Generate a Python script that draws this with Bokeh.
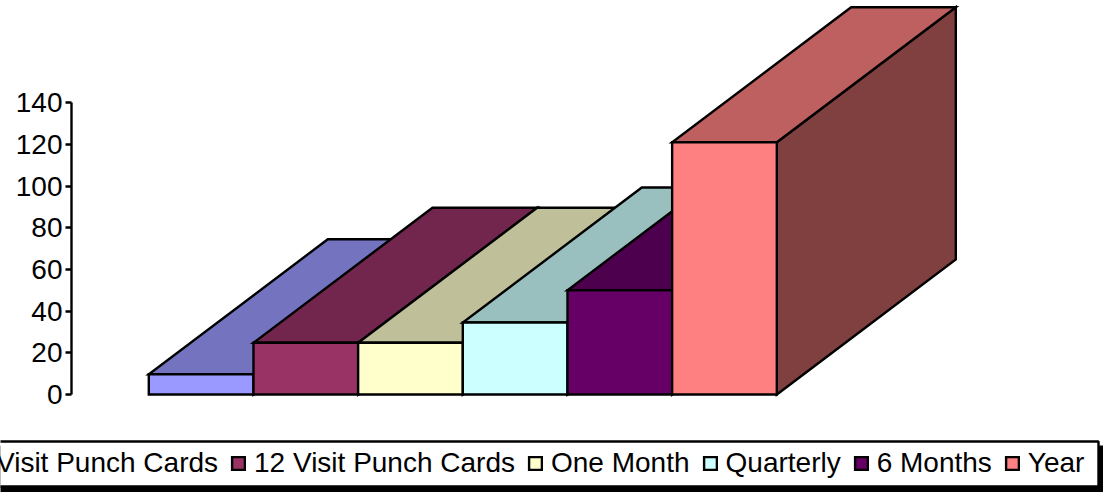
from bokeh.plotting import figure
from bokeh.layouts import column
from bokeh.models import Legend, LegendItem, FixedTicker, BoxAnnotation, Range1d
from bokeh.embed import file_html
from bokeh.resources import INLINE

categories = ["Visit Punch Cards", "12 Visit Punch Cards", "One Month", "Quarterly", "6 Months", "Year"]
values = [9.7, 24.8, 24.8, 34.5, 50, 121]
front_colors = ["#9999FF", "#993366", "#FFFFCC", "#CCFFFF", "#660066", "#FF8080"]
top_colors = ["#7373C0", "#73264D", "#BFBF99", "#99BFBF", "#4D004D", "#BF6060"]
side_colors = ["#4C4C80", "#4C1933", "#808066", "#668080", "#330033", "#804040"]
y_ticks = [0, 20, 40, 60, 80, 100, 120, 140]

PX_PER_X = 104.67
PX_PER_Y = 2.085
W, H1, H2 = 1103, 432, 60
LEFT, BOTTOM = 71, 32
frame_w = W - LEFT
frame_h = H1 - BOTTOM
x_start = -(148.3 - 71) / PX_PER_X
y_start = -6 / PX_PER_Y
depth_x = 179 / PX_PER_X
depth_y = 135 / PX_PER_Y

p = figure(width=W, height=H1, output_backend="svg", toolbar_location=None,
           x_range=Range1d(x_start, x_start + frame_w / PX_PER_X),
           y_range=Range1d(y_start, y_start + frame_h / PX_PER_Y),
           min_border_left=LEFT, min_border_right=0, min_border_top=0, min_border_bottom=BOTTOM,
           x_axis_type=None, frame_align=False)
p.grid.visible = False
p.outline_line_color = None

ax = p.yaxis[0]
ax.ticker = FixedTicker(ticks=y_ticks)
ax.bounds = (0, 140)
ax.axis_line_color = "black"
ax.axis_line_width = 2.4
ax.major_tick_line_color = "black"
ax.major_tick_line_width = 2.4
ax.major_tick_out = 6
ax.major_tick_in = 0
ax.minor_tick_line_color = None
ax.major_label_text_font = "Liberation Sans"
ax.major_label_text_font_size = "28px"
ax.major_label_text_color = "black"
ax.major_label_standoff = 3

style = dict(line_color="black", line_width=2.4, line_join="miter")
for i, v in enumerate(values):
    x0, x1 = i, i + 1
    p.patch([x1, x1, x1 + depth_x, x1 + depth_x], [0, v, v + depth_y, depth_y],
            fill_color=side_colors[i], **style)
    p.patch([x0, x1, x1 + depth_x, x0 + depth_x], [v, v, v + depth_y, v + depth_y],
            fill_color=top_colors[i], **style)
    p.quad(left=[x0], right=[x1], bottom=[0], top=[v], fill_color=front_colors[i], **style)

# legend strip: a figure of its own so nothing is clipped by the chart's frame
q = figure(width=W, height=H2, output_backend="svg", toolbar_location=None,
           x_range=Range1d(0, 1), y_range=Range1d(0, 1),
           min_border_left=0, min_border_right=0, min_border_top=0, min_border_bottom=0,
           x_axis_type=None, y_axis_type=None, frame_align=False)
q.grid.visible = False
q.outline_line_color = None

box = dict(left_units="screen", right_units="screen", top_units="screen", bottom_units="screen")
q.add_layout(BoxAnnotation(left=-10, right=1103, top=47, bottom=0, fill_color="black", fill_alpha=1,
                           line_color=None, **box))
q.add_layout(BoxAnnotation(left=-10, right=1098, top=51, bottom=6, fill_color="white", fill_alpha=1,
                           line_color="black", line_width=2.4, line_alpha=1, **box))

items = []
for name, c in zip(categories, front_colors):
    r = q.quad(left=[-2], right=[-1], bottom=[-2], top=[-1], fill_color=c, **style)
    items.append(LegendItem(label=name, renderers=[r]))

legend = Legend(items=items, orientation="horizontal", location=(-28, 13),
                glyph_width=16, glyph_height=16, label_standoff=8, spacing=12,
                padding=0, margin=0, border_line_color=None, background_fill_alpha=0,
                label_text_font="Liberation Sans", label_text_font_size="28px",
                label_text_color="black")
q.add_layout(legend, "center")

open("out.html", "w").write(file_html(column(p, q, spacing=0), INLINE))
